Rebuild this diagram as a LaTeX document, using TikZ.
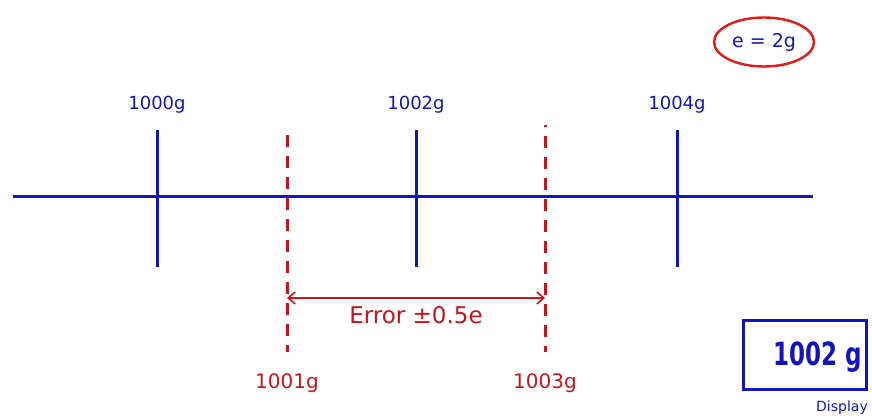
\documentclass[tikz,border=0pt]{standalone}
\usepackage{fontspec}
\setmainfont{DejaVu Sans}
\usetikzlibrary{arrows.meta,shapes.geometric}
\definecolor{dblue}{RGB}{20,20,190}
\definecolor{dred}{RGB}{200,20,30}
\definecolor{bred}{RGB}{230,25,25}
\begin{document}
\begin{tikzpicture}[x=1pt,y=-1pt,
  axis/.style={draw=dblue,line width=3pt},
  tick/.style={draw=dblue,line width=3pt},
  dashln/.style={draw=dred,line width=3pt,dash pattern=on 12pt off 9pt},
  bluelbl/.style={text=dblue,font=\fontsize{18}{20}\selectfont,inner sep=0pt},
  redlbl/.style={text=dred,font=\fontsize{20}{22}\selectfont,inner sep=0pt}]
\useasboundingbox (0,0) rectangle (872,419);
% main axis
\coordinate (al) at (13,197);
\coordinate (ar) at (813,197);
\draw[axis] (al) -- (ar);
% solid ticks
\foreach \n/\x/\t in {a/157/1000g,b/416/1002g,c/677/1004g}{
  \coordinate (\n top) at (\x,130);
  \coordinate (\n bot) at (\x,267);
  \draw[tick] (\n top) -- (\n bot);
  \node[bluelbl] (\n lbl) at (\x,105) {\t};
}
% dashed red lines
\coordinate (d1top) at (287,135);
\coordinate (d1bot) at (287,352);
\coordinate (d2top) at (545,125);
\coordinate (d2bot) at (545,352);
\draw[dashln] (d1top) -- (d1bot);
\draw[dashln,dash phase=10pt] (d2top) -- (d2bot);
\node[redlbl] (l1001) at (287,383) {1001g};
\node[redlbl] (l1003) at (545,383) {1003g};
% error arrow
\coordinate (e1) at (287,298);
\coordinate (e2) at (545,298);
\draw[draw=dred,line width=1.6pt,{Straight Barb[length=7pt,width=12pt]}-{Straight Barb[length=7pt,width=12pt]}] (e1) -- (e2);
\node[redlbl,font=\fontsize{23}{25}\selectfont] (err) at (416,315) {Error ±0.5e};
% ellipse
\node[draw=bred,line width=2.4pt,ellipse,minimum width=100pt,minimum height=49pt,inner sep=0pt,
  text=dblue,font=\fontsize{19}{21}\selectfont] (eq) at (764,42) {e = 2g};
% display
\node[draw=dblue,line width=3pt,minimum width=123pt,minimum height=68pt,inner sep=0pt] (disp) at (805,355) {};
\node[text=dblue,font=\fontsize{32}{34}\selectfont\bfseries,xscale=0.72,inner sep=0pt] (dtxt) at (818,357) {1002 g};
\node[text=dblue,font=\fontsize{14}{16}\selectfont,inner sep=0pt] (dlbl) at (842,408) {Display};
\end{tikzpicture}
\end{document}
